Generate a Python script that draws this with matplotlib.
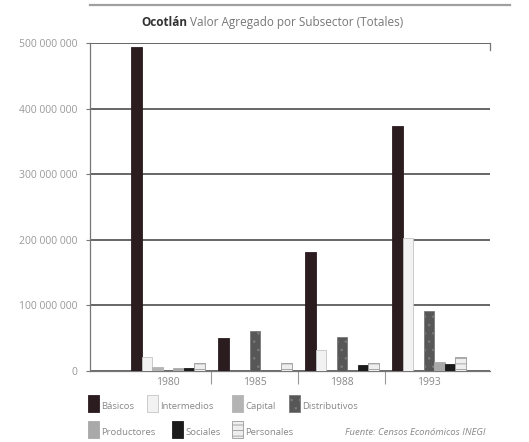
import numpy as np
import matplotlib
matplotlib.use("Agg")
import matplotlib.pyplot as plt
from matplotlib.patches import Rectangle
from matplotlib.lines import Line2D
from matplotlib.ticker import FuncFormatter

plt.rcParams['font.family'] = ['Open Sans', 'DejaVu Sans']
plt.rcParams['hatch.linewidth'] = 0.6

# Valor agregado por subsector (pesos)
years = ["1980", "1985", "1988", "1993"]
subsectors = ["Básicos", "Intermedios", "Capital", "Distributivos",
              "Productores", "Sociales", "Personales"]
basicos = [494e6, 50e6, 181e6, 373e6]
intermedios = [21e6, 0, 32e6, 203e6]
capital = [6e6, 0, 0, 0]
distributivos = [0, 61e6, 52e6, 91e6]
productores = [5e6, 0, 0, 13e6]
sociales = [5e6, 0, 9e6, 11e6]
personales = [12e6, 12e6, 12e6, 21e6]
series = [basicos, intermedios, capital, distributivos,
          productores, sociales, personales]

faces = ["#2b1c20", "#f2f2f2", "#b4b4b4", "#575757", "#a9a9a9", "#1b1b1b", "#eeeeee"]
edges = ["#2b1c20", "#c4c4c4", "#b4b4b4", "#7a7a7a", "#a9a9a9", "#1b1b1b", "#9a9a9a"]
hatches = [None, None, None, "..", None, None, "---"]

fig = plt.figure(figsize=(5.29, 4.42), dpi=100)
ax = fig.add_axes([0.170, 0.1606, 0.756, 0.742])

x = np.arange(len(years))
w = 0.1207
for j, vals in enumerate(series):
    ax.bar(x + (j - 3) * w, vals, width=w, color=faces[j], edgecolor=edges[j],
           linewidth=0.6, hatch=hatches[j], zorder=3)

ax.set_ylim(0, 500e6)
ax.set_xlim(-0.897, 3.70)
ax.set_yticks(np.arange(0, 500e6 + 1, 100e6))
ax.yaxis.set_major_formatter(FuncFormatter(
    lambda v, p: "0" if v == 0 else f"{int(v):,}".replace(",", " ")))
ax.grid(axis='y', color="#4d4d4d", linewidth=1.2, zorder=1)
ax.set_axisbelow(True)

ax.set_xticks(x)
ax.set_xticklabels(years)
ax.set_xticks([0.5, 1.5, 2.5], minor=True)
ax.tick_params(axis='x', which='major', length=0, pad=4, labelsize=7.5, labelcolor="#888888")
ax.tick_params(axis='x', which='minor', length=9, color="#999999", width=0.8)
ax.tick_params(axis='y', length=3, color="#777777", labelsize=7.5, labelcolor="#999999", pad=6)

for s in ["top", "right"]:
    ax.spines[s].set_visible(False)
ax.spines['left'].set_color("#777777")
ax.spines['bottom'].set_color("#777777")
ax.spines['left'].set_linewidth(0.9)
ax.spines['bottom'].set_linewidth(0.9)

# small corner tick at the top right of the frame
fig.add_artist(Line2D([0.926, 0.926], [0.887, 0.903], transform=fig.transFigure,
                      color="#777777", linewidth=0.9))

# rule at the top of the page
fig.add_artist(Line2D([0.17, 0.965], [0.988, 0.988], transform=fig.transFigure,
                      color="#a0a0a0", linewidth=1.6))

# title
t1 = fig.text(0.268, 0.948, "Ocotlán", fontsize=8.5, fontweight="bold", color="#333333",
              va="center", ha="left")
fig.canvas.draw()
bb = t1.get_window_extent()
fig.text(bb.x1 / fig.bbox.width + 0.004, 0.948,
         "Valor Agregado por Subsector (Totales)",
         fontsize=8.5, color="#777777", va="center", ha="left")

# legend, two rows
legend_pos = [(88, 395), (147, 395), (232, 395), (289, 395),
              (88, 421), (172, 421), (232, 421)]
W, H = 529, 442
for j, name in enumerate(subsectors):
    px, py = legend_pos[j]
    fig.add_artist(Rectangle((px / W, 1 - (py + 17) / H), 11 / W, 17 / H,
                             transform=fig.transFigure, facecolor=faces[j],
                             edgecolor=edges[j], linewidth=0.6, hatch=hatches[j]))
    fig.text((px + 13) / W, 1 - (py + 16) / H, name, fontsize=6.8, color="#888888",
             va="bottom", ha="left")

fig.text(345 / W, 1 - 437 / H, "Fuente: Censos Económicos INEGI", fontsize=6.8,
         style="italic", color="#888888", va="bottom", ha="left")

fig.savefig("out.png", dpi=100)
